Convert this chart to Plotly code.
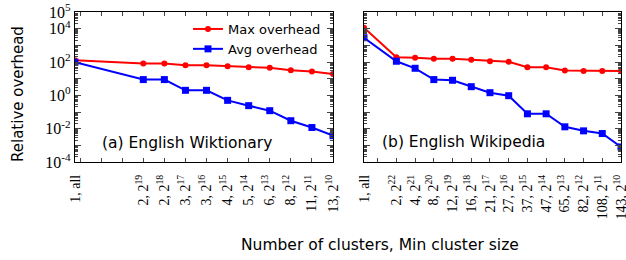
import plotly.graph_objects as go
from plotly.subplots import make_subplots

# ---------------- data ----------------
# English Wiktionary (panel a)
wikt_clusters = [1, 2, 2, 3, 3, 4, 5, 6, 8, 11, 13]
wikt_min_exp = ["all", 19, 18, 17, 16, 15, 14, 13, 12, 11, 10]
wikt_max = [128, 81, 81, 64, 64, 56, 48, 44.5, 32, 26.6, 19.3]
wikt_avg = [97, 8.8, 8.8, 2.0, 2.0, 0.50, 0.24, 0.12, 0.030, 0.0117, 0.0038]

# English Wikipedia (panel b)
wiki_clusters = [1, 2, 4, 8, 12, 16, 21, 27, 37, 47, 65, 82, 108, 143]
wiki_min_exp = ["all", 22, 21, 20, 19, 18, 17, 16, 15, 14, 13, 12, 11, 10]
wiki_max = [11500, 194, 178, 155, 155, 135, 111, 102, 48, 48, 30.5, 29.3, 29.3, 29.3]
wiki_avg = [2860, 111, 42, 8.8, 8.0, 3.3, 1.44, 0.95, 0.078, 0.078, 0.0129, 0.0074, 0.0051, 0.0008]

y_tick_exps = [5, 4, 3, 2, 1, 0, -1, -2, -3, -4]
y_labeled_exps = [5, 4, 2, 0, -2, -4]

# position of the "all" (whole dataset) entry on the log2 axis
WIKT_ALL_POS = 22.24
WIKI_ALL_POS = 23.73

RED = "#ff0000"
BLUE = "#0000ff"
SANS = "DejaVu Sans"
SERIF = "Liberation Serif"


def xpos(exps, all_pos):
    return [all_pos if e == "all" else e for e in exps]


def labels(clusters, exps):
    out = []
    for c, e in zip(clusters, exps):
        if e == "all":
            out.append(f"{c}, all")
        else:
            out.append(f"{c}, 2<sup>{e}</sup>")
    return out


fig = make_subplots(rows=1, cols=2, horizontal_spacing=0.0)

panels = [
    (1, wikt_clusters, wikt_min_exp, wikt_max, wikt_avg, WIKT_ALL_POS, True),
    (2, wiki_clusters, wiki_min_exp, wiki_max, wiki_avg, WIKI_ALL_POS, False),
]

for col, cl, ex, mx, av, allpos, legend in panels:
    xs = xpos(ex, allpos)
    fig.add_trace(go.Scatter(x=xs, y=mx, mode="lines+markers", name="Max overhead",
                             line=dict(color=RED, width=2),
                             marker=dict(symbol="circle", size=6, color=RED),
                             showlegend=legend, legendrank=1), row=1, col=col)
    fig.add_trace(go.Scatter(x=xs, y=av, mode="lines+markers", name="Avg overhead",
                             line=dict(color=BLUE, width=2),
                             marker=dict(symbol="square", size=7, color=BLUE),
                             showlegend=legend, legendrank=2), row=1, col=col)

    # tick positions: all labelled points plus unlabelled integer positions in the gap
    lab = labels(cl, ex)
    tv = list(xs)
    tt = list(lab)
    first_int = max(e for e in ex if e != "all")
    for k in range(first_int + 1, int(allpos) + 1):
        tv.append(k)
        tt.append("")
    fig.update_xaxes(row=1, col=col,
                     range=[allpos, 10], tickmode="array", tickvals=tv, ticktext=tt,
                     tickangle=-90, ticks="inside", ticklen=4, tickwidth=1,
                     showline=True, linecolor="black", linewidth=1.3, mirror="allticks",
                     showgrid=False, zeroline=False, automargin=False,
                     ticklabeloverflow="allow",
                     tickfont=dict(family=SERIF, size=14, color="black"),
                     ticklabelstandoff=6)

minor_vals = [k * 10 ** e for e in range(-4, 5) for k in range(2, 10)]
for col in (1, 2):
    fig.update_yaxes(row=1, col=col, type="log", range=[-4, 5],
                     tickmode="array",
                     tickvals=[10 ** e for e in y_tick_exps],
                     ticktext=[(f"10<sup>{e}</sup>" if e in y_labeled_exps else "") for e in y_tick_exps],
                     ticks="inside", ticklen=6, tickwidth=1,
                     minor=dict(tickmode="array", tickvals=minor_vals, ticks="inside",
                                ticklen=3, tickwidth=1, showgrid=False),
                     showline=True, linecolor="black", linewidth=1.3, mirror="allticks",
                     showgrid=False, zeroline=False, automargin=False,
                     ticklabeloverflow="allow",
                     showticklabels=(col == 1),
                     tickfont=dict(family=SERIF, size=16, color="black"))

W, H = 626, 260
L, R, T, B = 75, 5, 12, 98
pw = W - L - R
fig.update_xaxes(domain=[0, (333 - L) / pw], row=1, col=1)
fig.update_xaxes(domain=[(364 - L) / pw, 1], row=1, col=2)

ph = H - T - B


def px_x(x):
    return (x - L) / pw


def px_y(y):
    return (H - B - y) / ph


fig.add_annotation(text="(a) English Wiktionary", x=px_x(187), y=px_y(142.5),
                   xref="paper", yref="paper", showarrow=False,
                   xanchor="center", yanchor="middle",
                   font=dict(family=SANS, size=15.5, color="black"))
fig.add_annotation(text="(b) English Wikipedia", x=px_x(463.7), y=px_y(142),
                   xref="paper", yref="paper", showarrow=False,
                   xanchor="center", yanchor="middle",
                   font=dict(family=SANS, size=15.5, color="black"))
fig.add_annotation(text="Relative overhead", x=px_x(18), y=px_y(94),
                   xref="paper", yref="paper", showarrow=False, textangle=-90,
                   xanchor="center", yanchor="middle",
                   font=dict(family=SANS, size=15, color="black"))
fig.add_annotation(text="Number of clusters, Min cluster size", x=px_x(379.5), y=px_y(245),
                   xref="paper", yref="paper", showarrow=False,
                   xanchor="center", yanchor="middle",
                   font=dict(family=SANS, size=15.5, color="black"))

fig.update_layout(
    width=W, height=H,
    margin=dict(l=L, r=R, t=T, b=B, autoexpand=False),
    paper_bgcolor="white", plot_bgcolor="white",
    showlegend=True,
    legend=dict(x=px_x(188), y=px_y(14), xanchor="left", yanchor="top",
                bgcolor="rgba(0,0,0,0)", borderwidth=0,
                font=dict(family=SANS, size=13, color="black"),
                tracegroupgap=0, itemwidth=30),
)

fig.write_html("out.html", config={"displayModeBar": False},
               post_script="document.body.style.margin='0';document.body.style.overflow='hidden';")
